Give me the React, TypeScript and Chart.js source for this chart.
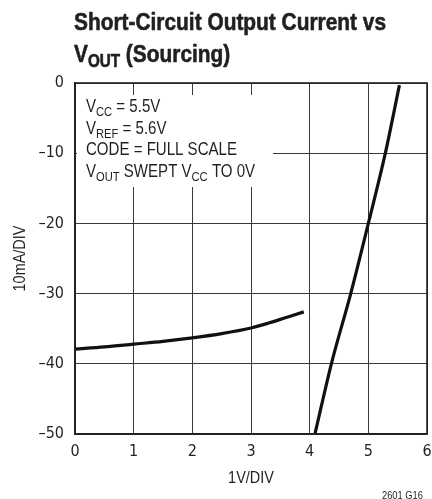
import React, { useEffect, useRef } from 'react';
import { Chart, registerables } from 'chart.js';

Chart.register(...registerables);

// ---- data ----
const xMin = 0;
const xMax = 6;
const yMin = -50;
const yMax = 0;
const xStep = 1;
const yStep = 10;

const sinkX = [0, 0.5, 1, 1.5, 2, 2.5, 3, 3.3, 3.6, 3.9];
const sinkY = [-37.9, -37.6, -37.2, -36.8, -36.3, -35.7, -34.9, -34.2, -33.4, -32.6];

const rampX = [4.09, 4.37, 4.7, 5.0, 5.29, 5.53];
const rampY = [-50, -40, -30, -20, -10, -0.3];

const titleLine1 = [{ t: 'Short-Circuit Output Current vs', sub: false }];
const titleLine2 = [
  { t: 'V', sub: false },
  { t: 'OUT', sub: true },
  { t: ' (Sourcing)', sub: false },
];
const noteLines = [
  [{ t: 'V', sub: false }, { t: 'CC', sub: true }, { t: ' = 5.5V', sub: false }],
  [{ t: 'V', sub: false }, { t: 'REF', sub: true }, { t: ' = 5.6V', sub: false }],
  [{ t: 'CODE = FULL SCALE', sub: false }],
  [
    { t: 'V', sub: false },
    { t: 'OUT', sub: true },
    { t: ' SWEPT V', sub: false },
    { t: 'CC', sub: true },
    { t: ' TO 0V', sub: false },
  ],
];
const xAxisTitle = '1V/DIV';
const yAxisTitle = '10mA/DIV';
const footnote = '2601 G16';

const NARROW = '"Liberation Sans", Arial, sans-serif';
const TICKFONT = '"DejaVu Sans Condensed", "Liberation Sans", sans-serif';
const INK = '#231f20';

type Seg = { t: string; sub: boolean };

// draws text with Liberation Sans squeezed horizontally (Arial Narrow look)
function drawRich(
  ctx: CanvasRenderingContext2D,
  x: number,
  y: number,
  segs: Seg[],
  size: number,
  subSize: number,
  subDy: number,
  weight: string,
  squeeze: number,
  stroke = 0
) {
  ctx.save();
  ctx.translate(x, y);
  ctx.scale(squeeze, 1);
  ctx.textAlign = 'left';
  ctx.textBaseline = 'alphabetic';
  ctx.strokeStyle = ctx.fillStyle as string;
  ctx.lineWidth = stroke;
  ctx.lineJoin = 'round';
  let cx = 0;
  for (const s of segs) {
    ctx.font = `${weight} ${s.sub ? subSize : size}px ${NARROW}`;
    ctx.fillText(s.t, cx, s.sub ? subDy : 0);
    if (stroke > 0) ctx.strokeText(s.t, cx, s.sub ? subDy : 0);
    cx += ctx.measureText(s.t).width;
  }
  ctx.restore();
}

function textWidth(ctx: CanvasRenderingContext2D, t: string, font: string, squeeze: number) {
  ctx.save();
  ctx.font = font;
  const w = ctx.measureText(t).width * squeeze;
  ctx.restore();
  return w;
}

const extrasPlugin = {
  id: 'extras',
  beforeDatasetsDraw(chart: any) {
    const ctx = chart.ctx as CanvasRenderingContext2D;
    const ca = chart.chartArea;
    ctx.save();
    // white box behind the note
    ctx.fillStyle = '#ffffff';
    ctx.fillRect(ca.left + 2, ca.top + 12, 196, 92);
    ctx.fillStyle = INK;
    noteLines.forEach((line, i) => {
      drawRich(ctx, ca.left + 11, ca.top + 29 + i * 21.5, line, 17.5, 13, 4, 'normal', 0.86);
    });
    ctx.restore();
  },
  afterDraw(chart: any) {
    const ctx = chart.ctx as CanvasRenderingContext2D;
    const ca = chart.chartArea;
    ctx.save();
    // frame
    ctx.strokeStyle = '#222';
    ctx.lineWidth = 1.6;
    ctx.strokeRect(ca.left, ca.top, ca.right - ca.left, ca.bottom - ca.top);

    ctx.fillStyle = INK;
    // title
    drawRich(ctx, 74, 30, titleLine1, 24, 17.5, 5, 'bold', 0.87, 0.6);
    drawRich(ctx, 74, 62, titleLine2, 24, 17.5, 5, 'bold', 0.87, 0.6);

    // x axis title
    const xw = textWidth(ctx, xAxisTitle, `17px ${NARROW}`, 0.85);
    drawRich(ctx, (ca.left + ca.right) / 2 - xw / 2, 483, [{ t: xAxisTitle, sub: false }], 17, 12, 0, 'normal', 0.85);

    // y axis title
    const yw = textWidth(ctx, yAxisTitle, `17px ${NARROW}`, 0.85);
    ctx.save();
    ctx.translate(25, (ca.top + ca.bottom) / 2 + yw / 2);
    ctx.rotate(-Math.PI / 2);
    drawRich(ctx, 0, 0, [{ t: yAxisTitle, sub: false }], 17, 12, 0, 'normal', 0.85);
    ctx.restore();

    // footnote
    const fw = textWidth(ctx, footnote, `11px ${NARROW}`, 0.85);
    drawRich(ctx, 423 - fw, 499, [{ t: footnote, sub: false }], 11, 8, 0, 'normal', 0.85);
    ctx.restore();
  },
};

const dash = (v: number) => (v < 0 ? '\u2013' + Math.abs(v) : String(v));

export default function App() {
  const ref = useRef<HTMLCanvasElement | null>(null);

  useEffect(() => {
    if (!ref.current) return;
    const chart = new Chart(ref.current, {
      type: 'scatter',
      data: {
        datasets: [
          {
            data: sinkX.map((x, i) => ({ x, y: sinkY[i] })),
            showLine: true,
            borderColor: '#111',
            borderWidth: 3.2,
            pointRadius: 0,
            cubicInterpolationMode: 'monotone',
            borderCapStyle: 'butt',
          },
          {
            data: rampX.map((x, i) => ({ x, y: rampY[i] })),
            showLine: true,
            borderColor: '#111',
            borderWidth: 3.2,
            pointRadius: 0,
            cubicInterpolationMode: 'monotone',
            borderCapStyle: 'butt',
          },
        ],
      } as any,
      options: {
        animation: false,
        responsive: true,
        maintainAspectRatio: false,
        layout: { padding: { top: 83, right: 5, left: 0, bottom: 0 } },
        plugins: {
          legend: { display: false },
          tooltip: { enabled: false },
          title: { display: false },
        },
        scales: {
          x: {
            type: 'linear',
            min: xMin,
            max: xMax,
            ticks: {
              stepSize: xStep,
              color: INK,
              padding: 8,
              font: { family: TICKFONT, size: 16 },
              callback: (v: any) => dash(Number(v)),
            },
            grid: { color: '#3a3a3a', lineWidth: 1, drawTicks: false },
            border: { color: '#222', width: 1.6 },
            afterFit: (s: any) => {
              s.height = 65;
              s.paddingLeft = 0;
              s.paddingRight = 0;
            },
          },
          y: {
            type: 'linear',
            min: yMin,
            max: yMax,
            ticks: {
              stepSize: yStep,
              color: INK,
              padding: 11,
              font: { family: TICKFONT, size: 16 },
              callback: (v: any) => dash(Number(v)),
            },
            grid: { color: '#3a3a3a', lineWidth: 1, drawTicks: false },
            border: { color: '#222', width: 1.6 },
            afterFit: (s: any) => {
              s.width = 75;
              s.paddingTop = 0;
              s.paddingBottom = 0;
            },
          },
        },
      } as any,
      plugins: [extrasPlugin],
    });
    return () => chart.destroy();
  }, []);

  return (
    <div style={{ position: 'fixed', left: 0, top: 0, width: 432, height: 499, background: '#fff' }}>
      <canvas ref={ref} />
    </div>
  );
}
